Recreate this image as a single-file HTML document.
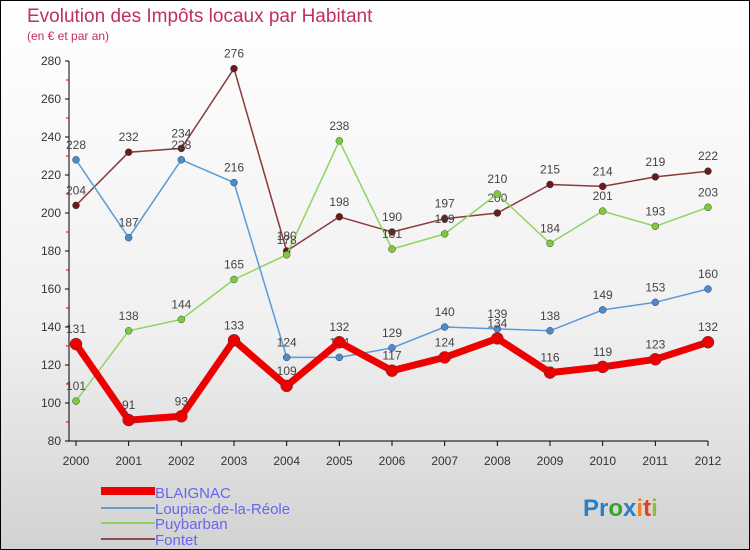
<!DOCTYPE html>
<html><head><meta charset="utf-8"><style>
body{margin:0}
#c{position:relative;width:748px;height:548px;border:1px solid #000;background:linear-gradient(#fff 0%,#f0f0f0 60%,#d2d2d2 100%);font-family:"Liberation Sans",sans-serif;overflow:hidden}
</style></head><body>
<div id="c">
<svg id="s" width="748" height="548" style="position:absolute;left:0;top:0">
<text x="26" y="21" font-size="19" fill="#c0305a">Evolution des Impôts locaux par Habitant</text>
<text x="26" y="39" font-size="12" fill="#c0305a">(en € et par an)</text>
<g id="axes"></g><g id="series"></g>
<rect x="100" y="486" width="54" height="8" fill="#ee0000"/>
<line x1="100" y1="507" x2="154" y2="507" stroke="#6a9ecb" stroke-width="2"/>
<line x1="100" y1="522" x2="154" y2="522" stroke="#8fd460" stroke-width="2"/>
<line x1="100" y1="538" x2="154" y2="538" stroke="#8a5050" stroke-width="2"/>
<g font-size="15" fill="#6666ee">
<text x="154" y="497">BLAIGNAC</text>
<text x="154" y="513">Loupiac-de-la-Réole</text>
<text x="154" y="528">Puybarban</text>
<text x="154" y="544">Fontet</text>
</g>
<g font-size="24" font-weight="bold">
<text x="582" y="515"><tspan fill="#2a7fc8">Pr</tspan><tspan fill="#3aa030">o</tspan><tspan fill="#2a7fc8">x</tspan><tspan fill="#f08020">i</tspan><tspan fill="#e04020">t</tspan><tspan fill="#90c030">i</tspan></text>
</g>
</svg>
</div>
<script>
const years=[2000,2001,2002,2003,2004,2005,2006,2007,2008,2009,2010,2011,2012];
const yTicks=[80,100,120,140,160,180,200,220,240,260,280];
const blaignac=[131,91,93,133,109,132,117,124,134,116,119,123,132];
const loupiac=[228,187,228,216,124,124,129,140,139,138,149,153,160];
const puybarban=[101,138,144,165,178,238,181,189,210,184,201,193,203];
const fontet=[204,232,234,276,180,198,190,197,200,215,214,219,222];
const NS="http://www.w3.org/2000/svg";
const X=i=>75+i*(707-75)/12, Y=v=>440-(v-80)*1.9;
function mk(t,a,p){const e=document.createElementNS(NS,t);for(const k in a)e.setAttribute(k,a[k]);p.appendChild(e);return e;}
const ax=document.getElementById('axes');
let e=mk('line',{x1:68,y1:60,x2:68,y2:440,stroke:'#000'},ax);


e=mk('line',{x1:68,y1:440,x2:707,y2:440,stroke:'#000'},ax);


yTicks.forEach((v,i)=>{
 mk('line',{x1:64,y1:Y(v),x2:68,y2:Y(v),stroke:'#000'},ax);
 if(i<yTicks.length-1)mk('line',{x1:65,y1:Y(v+10),x2:68,y2:Y(v+10),stroke:'#d00'},ax);
 const t=mk('text',{x:60,y:Y(v)+4,'font-size':12,fill:'#333','text-anchor':'end'},ax);t.textContent=v;
 
 
});
years.forEach((y,i)=>{
 mk('line',{x1:X(i),y1:440,x2:X(i),y2:445,stroke:'#000'},ax);
 const t=mk('text',{x:X(i),y:464,'font-size':12,fill:'#333','text-anchor':'middle'},ax);t.textContent=y;
 
 
});
const sg=document.getElementById('series');
function draw(d,col,w,r,name,dot){
 const g=mk('g',{},sg);
 
 
 const p=mk('polyline',{points:d.map((v,i)=>X(i)+','+Y(v)).join(' '),fill:'none',stroke:col,'stroke-width':w,'stroke-linejoin':'round'},g);
 
 
 d.forEach((v,i)=>{
  const c=mk('circle',{cx:X(i),cy:Y(v),r:r,fill:dot,stroke:'#444','stroke-width':0.5},g);
  
  
  const t=mk('text',{x:X(i),y:Y(v)-11,'font-size':12,fill:'#444','text-anchor':'middle'},g);t.textContent=v;
  
  
 });
}
draw(fontet,'#8a3a3a',1.5,3.5,'fontet','#6a1a1a');
draw(puybarban,'#8fd460',1.5,3.5,'puybarban','#7ccc3a');
draw(loupiac,'#5a9ad8',1.5,3.5,'loupiac','#4a8ad0');
draw(blaignac,'#ee0000',7,6,'blaignac','#ee0000');
</script>
</body></html>
